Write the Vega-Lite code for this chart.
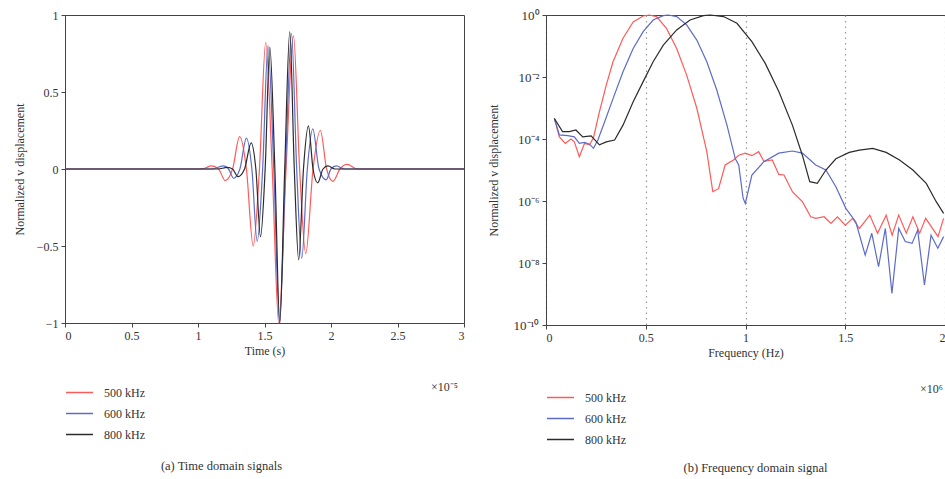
{
  "$schema": "https://vega.github.io/schema/vega-lite/v6.json",
  "background": "white",
  "padding": {"left": 12, "top": 8, "right": 0, "bottom": 0},
  "spacing": 19,
  "datasets": {
    "time": [
      {"s":"500 kHz","t":0,"v":0},{"s":"500 kHz","t":1.0,"v":0},{"s":"500 kHz","t":1.05,"v":0.005},{"s":"500 kHz","t":1.1,"v":0.02},{"s":"500 kHz","t":1.155,"v":0},{"s":"500 kHz","t":1.205,"v":-0.075},{"s":"500 kHz","t":1.26,"v":0},{"s":"500 kHz","t":1.313,"v":0.21},{"s":"500 kHz","t":1.364,"v":0},{"s":"500 kHz","t":1.415,"v":-0.5},{"s":"500 kHz","t":1.462,"v":0},{"s":"500 kHz","t":1.509,"v":0.82},{"s":"500 kHz","t":1.558,"v":0},{"s":"500 kHz","t":1.607,"v":-1.0},{"s":"500 kHz","t":1.662,"v":0},{"s":"500 kHz","t":1.718,"v":0.865},{"s":"500 kHz","t":1.764,"v":0},{"s":"500 kHz","t":1.81,"v":-0.55},{"s":"500 kHz","t":1.865,"v":0},{"s":"500 kHz","t":1.92,"v":0.25},{"s":"500 kHz","t":1.967,"v":0},{"s":"500 kHz","t":2.015,"v":-0.08},{"s":"500 kHz","t":2.067,"v":0},{"s":"500 kHz","t":2.12,"v":0.03},{"s":"500 kHz","t":2.2,"v":0},{"s":"500 kHz","t":3,"v":0},
      {"s":"600 kHz","t":0,"v":0},{"s":"600 kHz","t":1.1,"v":0},{"s":"600 kHz","t":1.19,"v":0.02},{"s":"600 kHz","t":1.23,"v":0},{"s":"600 kHz","t":1.268,"v":-0.06},{"s":"600 kHz","t":1.315,"v":0},{"s":"600 kHz","t":1.364,"v":0.2},{"s":"600 kHz","t":1.405,"v":0},{"s":"600 kHz","t":1.445,"v":-0.47},{"s":"600 kHz","t":1.486,"v":0},{"s":"600 kHz","t":1.526,"v":0.8},{"s":"600 kHz","t":1.57,"v":0},{"s":"600 kHz","t":1.613,"v":-1.0},{"s":"600 kHz","t":1.658,"v":0},{"s":"600 kHz","t":1.703,"v":0.88},{"s":"600 kHz","t":1.742,"v":0},{"s":"600 kHz","t":1.78,"v":-0.58},{"s":"600 kHz","t":1.822,"v":0},{"s":"600 kHz","t":1.863,"v":0.26},{"s":"600 kHz","t":1.91,"v":0},{"s":"600 kHz","t":1.964,"v":-0.07},{"s":"600 kHz","t":2.0,"v":0},{"s":"600 kHz","t":2.04,"v":0.02},{"s":"600 kHz","t":2.1,"v":0},{"s":"600 kHz","t":3,"v":0},
      {"s":"800 kHz","t":0,"v":0},{"s":"800 kHz","t":1.15,"v":0},{"s":"800 kHz","t":1.22,"v":0.01},{"s":"800 kHz","t":1.26,"v":0},{"s":"800 kHz","t":1.3,"v":-0.05},{"s":"800 kHz","t":1.35,"v":0},{"s":"800 kHz","t":1.4,"v":0.17},{"s":"800 kHz","t":1.435,"v":0},{"s":"800 kHz","t":1.47,"v":-0.44},{"s":"800 kHz","t":1.505,"v":0},{"s":"800 kHz","t":1.54,"v":0.79},{"s":"800 kHz","t":1.578,"v":0},{"s":"800 kHz","t":1.615,"v":-1.0},{"s":"800 kHz","t":1.652,"v":0},{"s":"800 kHz","t":1.69,"v":0.89},{"s":"800 kHz","t":1.724,"v":0},{"s":"800 kHz","t":1.757,"v":-0.59},{"s":"800 kHz","t":1.793,"v":0},{"s":"800 kHz","t":1.83,"v":0.28},{"s":"800 kHz","t":1.865,"v":0},{"s":"800 kHz","t":1.9,"v":-0.09},{"s":"800 kHz","t":1.94,"v":0},{"s":"800 kHz","t":1.977,"v":0.02},{"s":"800 kHz","t":2.03,"v":0},{"s":"800 kHz","t":3,"v":0}
    ],
    "freq": [
      {"s":"500 kHz","f":0.042,"a":4.6e-4},{"s":"500 kHz","f":0.067,"a":1.17e-4},{"s":"500 kHz","f":0.097,"a":7.2e-5},{"s":"500 kHz","f":0.125,"a":1.0e-4},{"s":"500 kHz","f":0.142,"a":8.1e-5},{"s":"500 kHz","f":0.167,"a":2.7e-5},{"s":"500 kHz","f":0.193,"a":7.2e-5},{"s":"500 kHz","f":0.218,"a":6.5e-5},{"s":"500 kHz","f":0.238,"a":1.1e-4},{"s":"500 kHz","f":0.268,"a":7.6e-4},{"s":"500 kHz","f":0.302,"a":5.5e-3},{"s":"500 kHz","f":0.336,"a":3.1e-2},{"s":"500 kHz","f":0.386,"a":0.178},{"s":"500 kHz","f":0.437,"a":0.6},{"s":"500 kHz","f":0.487,"a":0.93},{"s":"500 kHz","f":0.517,"a":1.0},{"s":"500 kHz","f":0.554,"a":0.89},{"s":"500 kHz","f":0.604,"a":0.37},{"s":"500 kHz","f":0.655,"a":0.083},{"s":"500 kHz","f":0.705,"a":0.0115},{"s":"500 kHz","f":0.756,"a":9.8e-4},{"s":"500 kHz","f":0.806,"a":3.9e-5},{"s":"500 kHz","f":0.836,"a":2.0e-6},{"s":"500 kHz","f":0.865,"a":2.5e-6},{"s":"500 kHz","f":0.898,"a":1.45e-5},{"s":"500 kHz","f":0.94,"a":2.1e-5},{"s":"500 kHz","f":0.966,"a":3.0e-5},{"s":"500 kHz","f":0.999,"a":3.5e-5},{"s":"500 kHz","f":1.032,"a":2.9e-5},{"s":"500 kHz","f":1.066,"a":3.9e-5},{"s":"500 kHz","f":1.092,"a":1.9e-5},{"s":"500 kHz","f":1.134,"a":2.1e-5},{"s":"500 kHz","f":1.167,"a":7.2e-6},{"s":"500 kHz","f":1.193,"a":6.9e-6},{"s":"500 kHz","f":1.235,"a":2.0e-6},{"s":"500 kHz","f":1.285,"a":9.5e-7},{"s":"500 kHz","f":1.327,"a":3.1e-7},{"s":"500 kHz","f":1.352,"a":2.75e-7},{"s":"500 kHz","f":1.394,"a":3.1e-7},{"s":"500 kHz","f":1.428,"a":1.9e-7},{"s":"500 kHz","f":1.461,"a":3.1e-7},{"s":"500 kHz","f":1.5,"a":1.66e-7},{"s":"500 kHz","f":1.537,"a":2.75e-7},{"s":"500 kHz","f":1.571,"a":1.3e-7},{"s":"500 kHz","f":1.623,"a":3.5e-7},{"s":"500 kHz","f":1.662,"a":9.1e-8},{"s":"500 kHz","f":1.705,"a":3.5e-7},{"s":"500 kHz","f":1.735,"a":7.9e-8},{"s":"500 kHz","f":1.768,"a":3.5e-7},{"s":"500 kHz","f":1.806,"a":9.1e-8},{"s":"500 kHz","f":1.839,"a":3.1e-7},{"s":"500 kHz","f":1.873,"a":9.1e-8},{"s":"500 kHz","f":1.903,"a":2.75e-7},{"s":"500 kHz","f":1.965,"a":7.1e-8},{"s":"500 kHz","f":1.993,"a":2.75e-7},
      {"s":"600 kHz","f":0.042,"a":4.6e-4},{"s":"600 kHz","f":0.067,"a":1.35e-4},{"s":"600 kHz","f":0.109,"a":1.29e-4},{"s":"600 kHz","f":0.142,"a":1.17e-4},{"s":"600 kHz","f":0.167,"a":7.2e-5},{"s":"600 kHz","f":0.193,"a":7.8e-5},{"s":"600 kHz","f":0.218,"a":6.8e-5},{"s":"600 kHz","f":0.238,"a":5.0e-5},{"s":"600 kHz","f":0.26,"a":9.3e-5},{"s":"600 kHz","f":0.294,"a":3.6e-4},{"s":"600 kHz","f":0.336,"a":2.0e-3},{"s":"600 kHz","f":0.386,"a":1.48e-2},{"s":"600 kHz","f":0.437,"a":8.3e-2},{"s":"600 kHz","f":0.487,"a":0.29},{"s":"600 kHz","f":0.537,"a":0.69},{"s":"600 kHz","f":0.588,"a":0.95},{"s":"600 kHz","f":0.613,"a":1.0},{"s":"600 kHz","f":0.655,"a":0.89},{"s":"600 kHz","f":0.705,"a":0.48},{"s":"600 kHz","f":0.756,"a":0.155},{"s":"600 kHz","f":0.806,"a":0.031},{"s":"600 kHz","f":0.856,"a":3.8e-3},{"s":"600 kHz","f":0.907,"a":2.8e-4},{"s":"600 kHz","f":0.949,"a":2.3e-5},{"s":"600 kHz","f":0.966,"a":1.45e-5},{"s":"600 kHz","f":0.988,"a":1.23e-6},{"s":"600 kHz","f":0.999,"a":8.3e-7},{"s":"600 kHz","f":1.032,"a":6.9e-6},{"s":"600 kHz","f":1.092,"a":1.86e-5},{"s":"600 kHz","f":1.167,"a":3.5e-5},{"s":"600 kHz","f":1.235,"a":4.1e-5},{"s":"600 kHz","f":1.285,"a":3.5e-5},{"s":"600 kHz","f":1.352,"a":1.45e-5},{"s":"600 kHz","f":1.403,"a":1.0e-5},{"s":"600 kHz","f":1.453,"a":2.9e-6},{"s":"600 kHz","f":1.503,"a":5.8e-7},{"s":"600 kHz","f":1.553,"a":2.1e-7},{"s":"600 kHz","f":1.6,"a":1.8e-8},{"s":"600 kHz","f":1.633,"a":9.1e-8},{"s":"600 kHz","f":1.667,"a":7.6e-9},{"s":"600 kHz","f":1.701,"a":1.3e-7},{"s":"600 kHz","f":1.734,"a":1.05e-9},{"s":"600 kHz","f":1.768,"a":1.3e-7},{"s":"600 kHz","f":1.801,"a":4.9e-8},{"s":"600 kHz","f":1.835,"a":4.3e-8},{"s":"600 kHz","f":1.863,"a":1.15e-7},{"s":"600 kHz","f":1.897,"a":1.95e-9},{"s":"600 kHz","f":1.93,"a":7.9e-8},{"s":"600 kHz","f":1.964,"a":3.0e-8},{"s":"600 kHz","f":1.993,"a":7.1e-8},
      {"s":"800 kHz","f":0.042,"a":4.6e-4},{"s":"800 kHz","f":0.083,"a":1.74e-4},{"s":"800 kHz","f":0.117,"a":1.74e-4},{"s":"800 kHz","f":0.15,"a":1.95e-4},{"s":"800 kHz","f":0.184,"a":1.17e-4},{"s":"800 kHz","f":0.226,"a":1.26e-4},{"s":"800 kHz","f":0.268,"a":6.5e-5},{"s":"800 kHz","f":0.302,"a":8.1e-5},{"s":"800 kHz","f":0.344,"a":9.3e-5},{"s":"800 kHz","f":0.386,"a":2.8e-4},{"s":"800 kHz","f":0.437,"a":1.6e-3},{"s":"800 kHz","f":0.487,"a":7.1e-3},{"s":"800 kHz","f":0.537,"a":3.1e-2},{"s":"800 kHz","f":0.588,"a":0.107},{"s":"800 kHz","f":0.655,"a":0.33},{"s":"800 kHz","f":0.722,"a":0.69},{"s":"800 kHz","f":0.789,"a":0.95},{"s":"800 kHz","f":0.823,"a":1.0},{"s":"800 kHz","f":0.89,"a":0.89},{"s":"800 kHz","f":0.957,"a":0.54},{"s":"800 kHz","f":1.032,"a":0.138},{"s":"800 kHz","f":1.099,"a":0.0275},{"s":"800 kHz","f":1.167,"a":3.4e-3},{"s":"800 kHz","f":1.235,"a":2.8e-4},{"s":"800 kHz","f":1.285,"a":3.0e-5},{"s":"800 kHz","f":1.322,"a":4.2e-6},{"s":"800 kHz","f":1.36,"a":3.7e-6},{"s":"800 kHz","f":1.403,"a":1.0e-5},{"s":"800 kHz","f":1.453,"a":2.3e-5},{"s":"800 kHz","f":1.52,"a":3.7e-5},{"s":"800 kHz","f":1.571,"a":4.4e-5},{"s":"800 kHz","f":1.638,"a":5.0e-5},{"s":"800 kHz","f":1.705,"a":3.7e-5},{"s":"800 kHz","f":1.772,"a":2.1e-5},{"s":"800 kHz","f":1.839,"a":1.0e-5},{"s":"800 kHz","f":1.906,"a":3.7e-6},{"s":"800 kHz","f":1.956,"a":9.5e-7},{"s":"800 kHz","f":1.993,"a":4.0e-7}
    ]
  },
  "hconcat": [
    {
      "width": 399,
      "height": 308,
      "title": {"text": "(a) Time domain signals", "orient": "bottom", "anchor": "middle", "frame": "group", "dx": -43, "offset": 19},
      "layer": [
        {
          "data": {"name": "time"},
          "mark": {"type": "line", "interpolate": "monotone", "strokeWidth": 1.2},
          "encoding": {
            "x": {"field": "t", "type": "quantitative", "scale": {"domain": [0, 3], "nice": false},
                  "axis": {"title": "Time (s)", "values": [0, 0.5, 1, 1.5, 2, 2.5, 3], "format": "~g"}},
            "y": {"field": "v", "type": "quantitative", "scale": {"domain": [-1, 1], "nice": false},
                  "axis": {"title": "Normalized v displacement", "values": [-1, -0.5, 0, 0.5, 1], "format": "~g", "titlePadding": 10}},
            "color": {"field": "s", "type": "nominal",
                      "scale": {"domain": ["500 kHz", "600 kHz", "800 kHz"], "range": ["#ff5a5a", "#5c6bc8", "#2b2b2b"]},
                      "legend": {"orient": "none", "legendX": 0, "legendY": 363}}
          }
        },
        {
          "data": {"values": [{"t": 3, "v": -1, "note": "×10⁻⁵"}]},
          "mark": {"type": "text", "align": "right", "baseline": "middle", "dx": -6, "dy": 64, "fontSize": 12, "color": "#333"},
          "encoding": {
            "x": {"field": "t", "type": "quantitative"},
            "y": {"field": "v", "type": "quantitative"},
            "text": {"field": "note"}
          }
        }
      ]
    },
    {
      "width": 399,
      "height": 310,
      "title": {"text": "(b) Frequency domain signal", "orient": "bottom", "anchor": "middle", "frame": "group", "dx": 10, "offset": 16},
      "layer": [
        {
          "data": {"name": "freq"},
          "mark": {"type": "line", "strokeWidth": 1.2},
          "encoding": {
            "x": {"field": "f", "type": "quantitative", "scale": {"domain": [0, 2], "nice": false},
                  "axis": {"title": "Frequency (Hz)", "values": [0, 0.5, 1, 1.5, 2], "format": "~g", "grid": true, "gridDash": [1.5, 4], "gridColor": "#999", "gridWidth": 1.2}},
            "y": {"field": "a", "type": "quantitative", "scale": {"type": "log", "domain": [1e-10, 1], "nice": false},
                  "axis": {"title": "Normalized v displacement", "values": [1e-10, 1e-8, 1e-6, 1e-4, 1e-2, 1], "titlePadding": 13, "labelFontSize": 13,
                           "labelExpr": "datum.value >= 0.5 ? '10⁰' : datum.value >= 0.005 ? '10⁻²' : datum.value >= 5e-5 ? '10⁻⁴' : datum.value >= 5e-7 ? '10⁻⁶' : datum.value >= 5e-9 ? '10⁻⁸' : '10⁻¹⁰'"}},
            "color": {"field": "s", "type": "nominal",
                      "scale": {"domain": ["500 kHz", "600 kHz", "800 kHz"], "range": ["#ff5a5a", "#5c6bc8", "#2b2b2b"]},
                      "legend": {"orient": "none", "legendX": 0, "legendY": 368}}
          }
        },
        {
          "data": {"values": [{"f": 2, "a": 1e-10, "note": "×10⁶"}]},
          "mark": {"type": "text", "align": "right", "baseline": "middle", "dx": -2, "dy": 64, "fontSize": 12, "color": "#333"},
          "encoding": {
            "x": {"field": "f", "type": "quantitative"},
            "y": {"field": "a", "type": "quantitative"},
            "text": {"field": "note"}
          }
        }
      ]
    }
  ],
  "resolve": {"legend": {"color": "independent"}},
  "config": {
    "font": "Liberation Serif",
    "view": {"stroke": "#444", "strokeWidth": 1},
    "axis": {
      "domainColor": "#444", "tickColor": "#444", "labelColor": "#333", "titleColor": "#333",
      "labelFontSize": 12, "titleFontSize": 12, "titleFontWeight": "normal",
      "labelFont": "Liberation Serif", "titleFont": "Liberation Serif",
      "grid": false, "tickSize": 4, "labelPadding": 3
    },
    "legend": {
      "title": null, "symbolType": "stroke", "symbolSize": 729, "symbolStrokeWidth": 1.5,
      "labelFontSize": 12, "labelFont": "Liberation Serif", "labelColor": "#333",
      "labelOffset": 10, "rowPadding": -7, "padding": 0, "direction": "vertical"
    },
    "title": {"fontSize": 12.5, "fontWeight": "normal", "font": "Liberation Serif", "color": "#333"}
  }
}
